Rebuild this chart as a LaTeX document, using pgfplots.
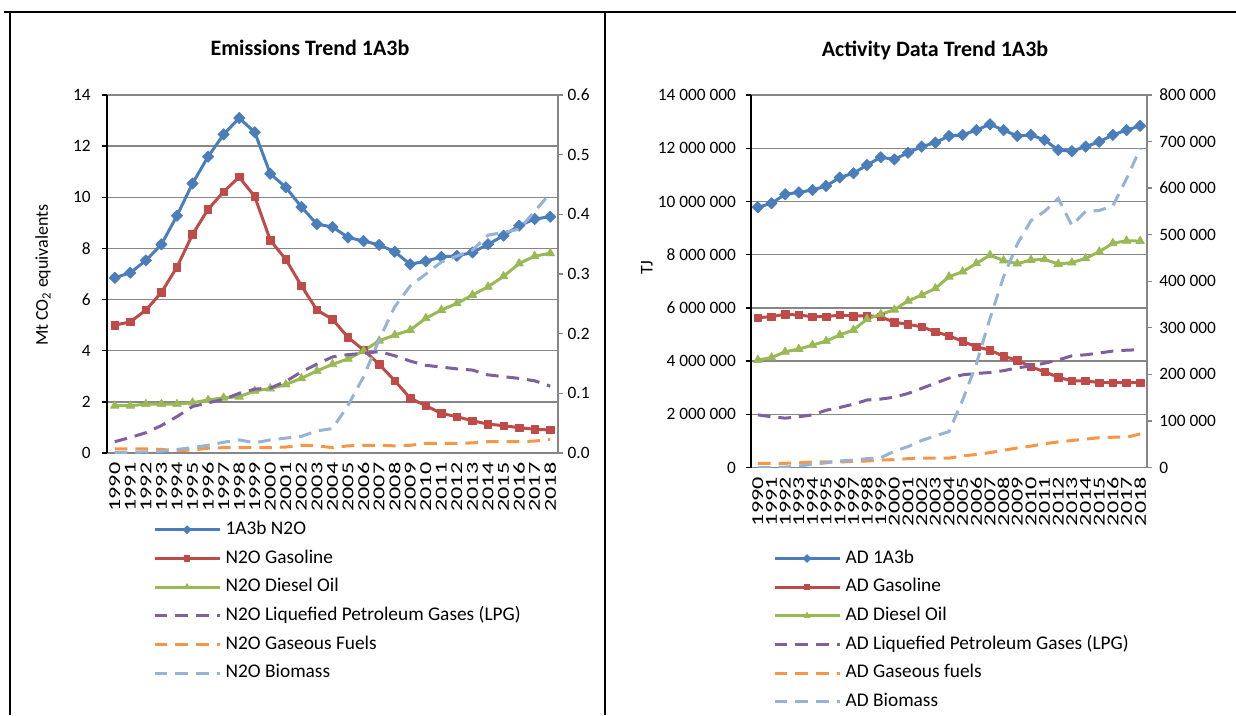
\documentclass[border=0pt]{standalone}
\usepackage{fontspec}
\setmainfont{Carlito}
\newfontfamily\yearfont{Carlito}[FakeStretch=1.45]
\usepackage{pgfplots}
\usepackage{pgfplotstable}
\pgfplotsset{compat=1.18}
\definecolor{cBlue}{HTML}{4A7EBB}
\definecolor{cRed}{HTML}{BE4B48}
\definecolor{cGreen}{HTML}{98B954}
\definecolor{cPurple}{HTML}{7D60A0}
\definecolor{cOrange}{HTML}{F79646}
\definecolor{cLBlue}{HTML}{95B3D7}
\definecolor{cGrid}{HTML}{868686}

\pgfplotstableread{
year tot gas die
1990 6.85 5.00 1.85
1991 7.05 5.13 1.85
1992 7.53 5.59 1.91
1993 8.16 6.28 1.91
1994 9.28 7.27 1.91
1995 10.54 8.55 1.97
1996 11.59 9.53 2.07
1997 12.46 10.22 2.16
1998 13.10 10.79 2.20
1999 12.54 10.03 2.43
2000 10.92 8.32 2.52
2001 10.39 7.57 2.68
2002 9.62 6.54 2.92
2003 8.95 5.59 3.21
2004 8.84 5.23 3.47
2005 8.43 4.52 3.68
2006 8.29 4.03 4.00
2007 8.14 3.47 4.39
2008 7.87 2.83 4.61
2009 7.38 2.14 4.81
2010 7.50 1.85 5.27
2011 7.67 1.55 5.59
2012 7.71 1.42 5.85
2013 7.84 1.26 6.18
2014 8.16 1.13 6.50
2015 8.50 1.07 6.91
2016 8.89 0.99 7.41
2017 9.15 0.93 7.70
2018 9.24 0.90 7.81
}\emisA

\pgfplotstableread{
year lpg gf bio
1990 0.019 0.007 0.001
1991 0.026 0.007 0.001
1992 0.034 0.007 0.002
1993 0.046 0.006 0.003
1994 0.061 0.004 0.006
1995 0.078 0.005 0.009
1996 0.084 0.008 0.013
1997 0.090 0.009 0.018
1998 0.100 0.009 0.022
1999 0.107 0.009 0.017
2000 0.109 0.009 0.022
2001 0.120 0.010 0.025
2002 0.136 0.013 0.028
2003 0.149 0.012 0.037
2004 0.161 0.009 0.041
2005 0.165 0.012 0.080
2006 0.167 0.013 0.128
2007 0.170 0.013 0.190
2008 0.163 0.012 0.245
2009 0.154 0.013 0.280
2010 0.147 0.016 0.300
2011 0.144 0.016 0.320
2012 0.141 0.016 0.330
2013 0.139 0.017 0.340
2014 0.131 0.019 0.365
2015 0.128 0.019 0.370
2016 0.125 0.019 0.375
2017 0.121 0.020 0.405
2018 0.112 0.023 0.435
}\emisB

\pgfplotstableread{
year tot gas die
1990 9780000 5630000 4040000
1991 9930000 5670000 4130000
1992 10270000 5760000 4350000
1993 10340000 5730000 4450000
1994 10430000 5670000 4600000
1995 10580000 5670000 4750000
1996 10900000 5730000 4980000
1997 11060000 5690000 5170000
1998 11370000 5710000 5580000
1999 11660000 5660000 5760000
2000 11580000 5460000 5930000
2001 11830000 5380000 6260000
2002 12060000 5290000 6480000
2003 12210000 5100000 6730000
2004 12460000 4950000 7170000
2005 12500000 4740000 7360000
2006 12680000 4540000 7670000
2007 12900000 4410000 7980000
2008 12680000 4180000 7780000
2009 12460000 4030000 7660000
2010 12500000 3780000 7800000
2011 12310000 3600000 7820000
2012 11930000 3390000 7650000
2013 11890000 3260000 7700000
2014 12060000 3260000 7860000
2015 12240000 3190000 8110000
2016 12500000 3190000 8430000
2017 12680000 3190000 8520000
2018 12840000 3190000 8510000
}\adA

\pgfplotstableread{
year lpg gf bio
1990 113000 9000 0
1991 109000 9000 0
1992 106000 9000 1000
1993 109000 10000 3000
1994 113000 12000 7000
1995 123000 12000 10000
1996 129000 12000 14000
1997 136000 13000 16000
1998 145000 14000 19000
1999 147000 16000 21000
2000 151000 17000 35000
2001 159000 19000 45000
2002 170000 20000 58000
2003 181000 20000 68000
2004 192000 20000 77000
2005 199000 25000 145000
2006 202000 28000 222000
2007 204000 32000 320000
2008 208000 37000 410000
2009 214000 42000 480000
2010 218000 46000 530000
2011 224000 51000 550000
2012 231000 55000 578000
2013 240000 58000 520000
2014 242000 61000 550000
2015 246000 64000 552000
2016 250000 65000 562000
2017 252000 65000 620000
2018 253000 72000 685000
}\adB

\pgfplotsset{
  base/.style={
    scale only axis, xmin=1989.5, xmax=2018.5,
    xtick={1990,...,2018},
    xticklabels={1990,1991,1992,1993,1994,1995,1996,1997,1998,1999,2000,2001,2002,2003,2004,2005,2006,2007,2008,2009,2010,2011,2012,2013,2014,2015,2016,2017,2018},
    yticklabel style={font=\fontsize{13}{15}\selectfont},
    xticklabel style={font=\yearfont\fontsize{12.5}{14}\selectfont, rotate=90, anchor=east},
    xtick style={draw=none},
    major tick length=3.75pt, tick align=outside,
    scaled y ticks=false,
  },
  prim/.style={
    axis x line*=bottom, axis y line*=left,
    x axis line style={cGrid, line width=1pt, -},
    y axis line style={black, line width=1.5pt, -},
    ytick style={black, line width=1pt},
    ymajorgrids, grid style={cGrid, line width=1pt},
    legend style={draw=none, fill=none, inner sep=0pt, outer sep=0pt,
      font=\fontsize{14.5}{16}\selectfont, row sep=8.5pt,
      nodes={inner sep=0pt, text height=10pt, text depth=3pt},
      /tikz/every odd column/.append style={column sep=3.5pt}},
    legend cell align=left,
    legend image code/.code={\draw[mark repeat=2,mark phase=2,##1, every mark/.append style={scale=0.7}] plot coordinates {(0pt,0pt) (24.4pt,0pt) (48.75pt,0pt)};},
  },
  sec/.style={
    axis y line*=right, axis x line=none, xtick=\empty,
    y axis line style={cGrid, line width=1.5pt, -},
    ytick style={cGrid, line width=1pt},
  },
  sBlue/.style={cBlue, line width=2.25pt, line join=round, mark=square*, mark size=3pt, mark options={rotate=45, solid, line width=0.5pt}},
  sRed/.style={cRed, line width=2.25pt, line join=round, mark=square*, mark size=2.8pt, mark options={solid, line width=0.5pt}},
  sGreen/.style={cGreen, line width=2.25pt, line join=round, mark=triangle*, mark size=3.7pt, mark options={solid, line width=0.5pt}},
  sPurple/.style={cPurple, line width=2.25pt, dash pattern=on 9.5pt off 6pt},
  sOrange/.style={cOrange, line width=2.25pt, dash pattern=on 9.5pt off 6pt},
  sLBlue/.style={cLBlue, line width=2.25pt, dash pattern=on 9.5pt off 6pt},
}

\begin{document}
\begin{tikzpicture}
\useasboundingbox (0pt,0pt) rectangle (927pt,-536.25pt);
\draw[line width=1.5pt] (3pt,-9pt) -- (927pt,-9pt);
\draw[line width=1.5pt] (7.5pt,-9pt) -- (7.5pt,-536.25pt);
\draw[line width=1.5pt] (453.75pt,-9pt) -- (453.75pt,-536.25pt);

\node[font=\bfseries\fontsize{16.5}{19}\selectfont] at (232.5pt,-36pt) {Emissions Trend 1A3b};
\node[font=\bfseries\fontsize{16.5}{19}\selectfont] at (701.25pt,-37.5pt) {Activity Data Trend 1A3b};
\node[rotate=90, font=\fontsize{13.5}{15}\selectfont] at (32.25pt,-206.25pt) {Mt CO\textsubscript{2} equivalents};
\node[rotate=90, font=\fontsize{13.5}{15}\selectfont] at (485.25pt,-201pt) {TJ};

% ---------- Left chart ----------
\begin{axis}[base, prim, at={(80.25pt,-339.75pt)}, anchor=south west,
  width=338.25pt, height=268.5pt,
  ymin=0, ymax=14, ytick={0,2,...,14}, yticklabels={0,2,4,6,8,10,12,14},
  yticklabel style={xshift=-5pt},
  legend style={at={(0.102,-0.19)}, anchor=north west}]
\addplot[sBlue] table[x=year,y=tot]{\emisA};
\addlegendentry{1A3b N2O}
\addplot[sRed] table[x=year,y=gas]{\emisA};
\addlegendentry{N2O Gasoline}
\addplot[sGreen] table[x=year,y=die]{\emisA};
\addlegendentry{N2O Diesel Oil}
\addlegendimage{sPurple}
\addlegendentry{N2O Liquefied Petroleum Gases (LPG)}
\addlegendimage{sOrange}
\addlegendentry{N2O Gaseous Fuels}
\addlegendimage{sLBlue}
\addlegendentry{N2O Biomass}
\end{axis}
\begin{axis}[base, sec, at={(80.25pt,-339.75pt)}, anchor=south west,
  width=338.25pt, height=268.5pt,
  ymin=0, ymax=0.6, ytick={0,0.1,0.2,0.3,0.4,0.5,0.6},
  yticklabels={0.0,0.1,0.2,0.3,0.4,0.5,0.6}]
\addplot[sPurple] table[x=year,y=lpg]{\emisB};
\addplot[sOrange] table[x=year,y=gf]{\emisB};
\addplot[sLBlue] table[x=year,y=bio]{\emisB};
\end{axis}

% ---------- Right chart ----------
\begin{axis}[base, prim, at={(563.25pt,-350.625pt)}, anchor=south west,
  width=297pt, height=279.375pt,
  ymin=0, ymax=14000000,
  ytick={0,2000000,4000000,6000000,8000000,10000000,12000000,14000000},
  yticklabels={0,2 000 000,4 000 000,6 000 000,8 000 000,10 000 000,12 000 000,14 000 000},
  yticklabel style={xshift=-4pt},
  legend style={at={(0.0556,-0.221)}, anchor=north west}]
\addplot[sBlue] table[x=year,y=tot]{\adA};
\addlegendentry{AD 1A3b}
\addplot[sRed] table[x=year,y=gas]{\adA};
\addlegendentry{AD Gasoline}
\addplot[sGreen] table[x=year,y=die]{\adA};
\addlegendentry{AD Diesel Oil}
\addlegendimage{sPurple}
\addlegendentry{AD Liquefied Petroleum Gases (LPG)}
\addlegendimage{sOrange}
\addlegendentry{AD Gaseous fuels}
\addlegendimage{sLBlue}
\addlegendentry{AD Biomass}
\end{axis}
\begin{axis}[base, sec, at={(563.25pt,-350.625pt)}, anchor=south west,
  width=297pt, height=279.375pt,
  ymin=0, ymax=800000,
  ytick={0,100000,200000,300000,400000,500000,600000,700000,800000},
  yticklabels={0,100 000,200 000,300 000,400 000,500 000,600 000,700 000,800 000},
  yticklabel style={xshift=2pt}]
\addplot[sPurple] table[x=year,y=lpg]{\adB};
\addplot[sOrange] table[x=year,y=gf]{\adB};
\addplot[sLBlue] table[x=year,y=bio]{\adB};
\end{axis}
\end{tikzpicture}
\end{document}
